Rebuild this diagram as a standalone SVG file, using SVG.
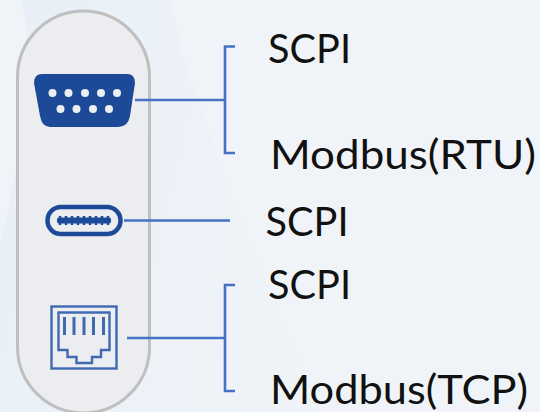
<svg xmlns="http://www.w3.org/2000/svg" width="540" height="412" viewBox="0 0 540 412">
<defs>
<linearGradient id="bgfade" x1="0" y1="0" x2="1" y2="0.3"><stop offset="0" stop-color="#e3ecf7" stop-opacity="0.7"/><stop offset="1" stop-color="#e8eff8" stop-opacity="0.1"/></linearGradient>
</defs>
<style>
.lbl{font-family:"Lato","Open Sans",sans-serif;font-size:41px;fill:#111}
.con{fill:none;stroke:#4472c4;stroke-width:2.600}
.dot{fill:#eceef1}
.rj{fill:none;stroke:#3f69b0;stroke-width:2.400}
.pin{fill:none;stroke:#3f69b0;stroke-width:3}
</style>
<rect width="540" height="412" fill="#f0f4f8"/>
<path d="M22 0H172C178 40 185 70 205 120C240 230 280 320 320 412H0V240C20 170 35 60 22 0Z" fill="url(#bgfade)"/>
<g id="pill"><rect x="17.500" y="11" width="132" height="402" rx="66" ry="66" fill="#ecedf0" stroke="#bfbfbf" stroke-width="3"/></g>
<g id="connectors">
<path class="con" d="M135 100H225"/>
<path class="con" d="M235 46.500H225V153H235"/>
<path class="con" d="M124 220.500H230"/>
<path class="con" d="M127 338H225"/>
<path class="con" d="M235 285H225V391H235"/>
</g>
<g id="db9">
<path d="M42 74H127Q135 74 135 83L130 116Q128 127 118 127H50Q42 127 40 116L34 83Q34 74 42 74Z" fill="#1d4a98"/>
<g class="dot"><circle cx="52.500" cy="93" r="4"/><circle cx="68.500" cy="93" r="4"/><circle cx="85" cy="93" r="4"/><circle cx="101" cy="93" r="4"/><circle cx="117" cy="93" r="4"/><circle cx="60.500" cy="109" r="4"/><circle cx="76.500" cy="109" r="4"/><circle cx="93" cy="109" r="4"/><circle cx="109" cy="109" r="4"/></g>
</g>
<g id="usbc">
<rect x="47.500" y="207" width="73" height="27" rx="13.500" fill="none" stroke="#1d4a98" stroke-width="4.500"/>
<rect x="57" y="217.500" width="54" height="6" rx="2" fill="#1d4a98"/>
<path d="M60 216V225M66 216V225M72 216V225M78 216V225M84 216V225M90 216V225M96 216V225M102 216V225M108 216V225" stroke="#1d4a98" stroke-width="2.500" fill="none"/>
</g>
<g id="rj45">
<rect x="51.500" y="306.500" width="65" height="62" class="rj"/>
<path class="rj" d="M58.500 312.500H109.500V350H101V357H92V363H76.500V357H67.500V350H58.500Z"/>
<path class="pin" d="M64.500 317V335M74 317V335M84 317V335M93.500 317V335M103.500 317V335"/>
</g>
<g id="labels">
<text class="lbl" x="268" y="62.500" textLength="83" lengthAdjust="spacingAndGlyphs">SCPI</text>
<text class="lbl" x="270" y="169" textLength="266" lengthAdjust="spacingAndGlyphs">Modbus(RTU)</text>
<text class="lbl" x="265.500" y="235.500" textLength="83" lengthAdjust="spacingAndGlyphs">SCPI</text>
<text class="lbl" x="268" y="299" textLength="83" lengthAdjust="spacingAndGlyphs">SCPI</text>
<text class="lbl" x="270" y="404" font-size="40" style="font-size:40px" textLength="258" lengthAdjust="spacingAndGlyphs">Modbus(TCP)</text>
</g>
</svg>
